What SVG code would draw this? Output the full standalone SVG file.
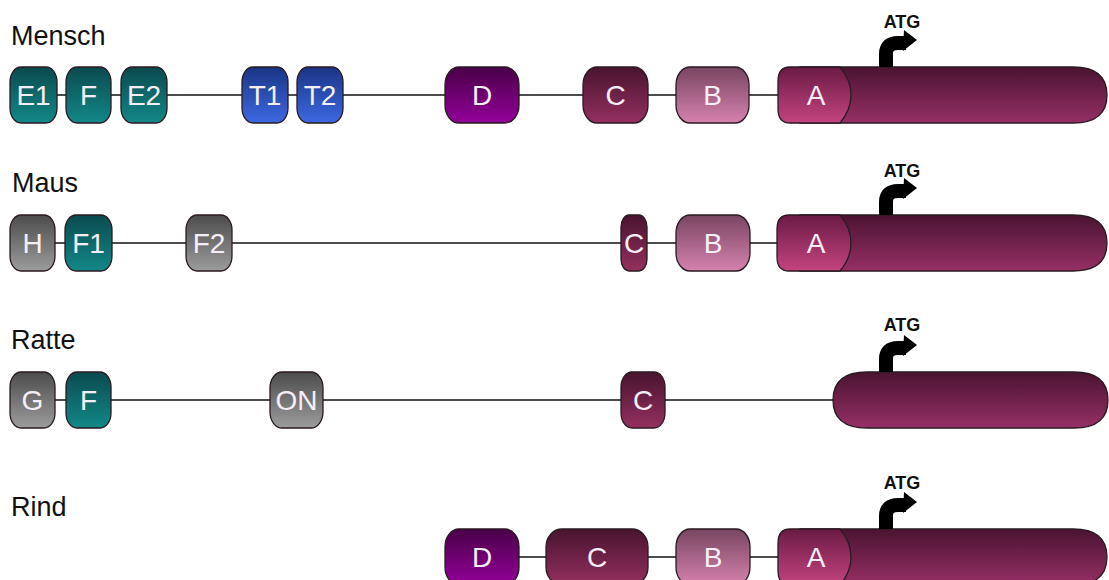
<svg xmlns="http://www.w3.org/2000/svg" width="1109" height="580" viewBox="0 0 1109 580">
<style>
.lbl{font-family:"Liberation Sans",Arial,sans-serif;font-size:27px;fill:#111}
.nt{font-family:"Liberation Sans",Arial,sans-serif;font-size:28px;fill:#f6eef6;text-anchor:middle}
.atg{font-family:"Liberation Sans",Arial,sans-serif;font-size:18px;font-weight:bold;fill:#111;text-anchor:middle}
.n{stroke:#2a1a22;stroke-width:1.3}
.ln{stroke:#111;stroke-width:1.3;fill:none}
</style>
<defs>
<linearGradient id="gT" x1="0" y1="0" x2="0" y2="1"><stop offset="0" stop-color="#0a4a4e"/><stop offset="1" stop-color="#138888"/></linearGradient>
<linearGradient id="gBl" x1="0" y1="0" x2="0" y2="1"><stop offset="0" stop-color="#1a3584"/><stop offset="1" stop-color="#3c68e2"/></linearGradient>
<linearGradient id="gD" x1="0" y1="0" x2="0" y2="1"><stop offset="0" stop-color="#480048"/><stop offset="1" stop-color="#94009a"/></linearGradient>
<linearGradient id="gC" x1="0" y1="0" x2="0" y2="1"><stop offset="0" stop-color="#48142e"/><stop offset="1" stop-color="#94305f"/></linearGradient>
<linearGradient id="gB" x1="0" y1="0" x2="0" y2="1"><stop offset="0" stop-color="#784660"/><stop offset="1" stop-color="#d682ae"/></linearGradient>
<linearGradient id="gA" x1="0" y1="0" x2="0" y2="1"><stop offset="0" stop-color="#6a1a44"/><stop offset="1" stop-color="#c4447f"/></linearGradient>
<linearGradient id="gBody" x1="0" y1="0" x2="0" y2="1"><stop offset="0" stop-color="#4a1430"/><stop offset="1" stop-color="#962f66"/></linearGradient>
<linearGradient id="gG" x1="0" y1="0" x2="0" y2="1"><stop offset="0" stop-color="#4c4c4c"/><stop offset="1" stop-color="#9c9c9c"/></linearGradient>
<g id="arrow">
<path d="M886 0 V-13 Q886 -24 898 -24 H906" fill="none" stroke="#000" stroke-width="14"/>
<polygon points="904,-37 917,-27 903,-16" fill="#000"/>
</g>
</defs>

<g id="connectors">
<line class="ln" x1="30" y1="95" x2="800" y2="95"/>
<line class="ln" x1="30" y1="243" x2="800" y2="243"/>
<line class="ln" x1="30" y1="400" x2="850" y2="400"/>
<line class="ln" x1="480" y1="557" x2="800" y2="557"/>
</g>

<!-- Row 1 Mensch -->
<g id="mensch">
<text class="lbl" x="11" y="45">Mensch</text>
<g id="m-body"><path class="n" fill="url(#gBody)" d="M800 67 H1073 Q1107 67 1107 95 Q1107 123 1073 123 H800 Z"/></g>
<g id="m-A"><path class="n" fill="url(#gA)" d="M790 67 H840 Q851 80 851 95 Q851 110 840 123 H790 Q778 123 778 109 V81 Q778 67 790 67 Z"/><text class="nt" x="816" y="105">A</text></g>
<g id="m-atg"><use href="#arrow" transform="translate(0,67)"/><text class="atg" x="902" y="28">ATG</text></g>
<g id="m-E1"><rect class="n" x="10" y="67" width="47" height="56" rx="11" ry="15" fill="url(#gT)"/><text class="nt" x="33.5" y="105">E1</text></g>
<g id="m-F"><rect class="n" x="66" y="67" width="45" height="56" rx="11" ry="15" fill="url(#gT)"/><text class="nt" x="88.5" y="105">F</text></g>
<g id="m-E2"><rect class="n" x="121" y="67" width="46" height="56" rx="11" ry="15" fill="url(#gT)"/><text class="nt" x="144" y="105">E2</text></g>
<g id="m-T1"><rect class="n" x="242" y="67" width="46" height="56" rx="11" ry="15" fill="url(#gBl)"/><text class="nt" x="265" y="105">T1</text></g>
<g id="m-T2"><rect class="n" x="297" y="67" width="46" height="56" rx="11" ry="15" fill="url(#gBl)"/><text class="nt" x="320" y="105">T2</text></g>
<g id="m-D"><rect class="n" x="445" y="67" width="74" height="56" rx="14" ry="18" fill="url(#gD)"/><text class="nt" x="482" y="105">D</text></g>
<g id="m-C"><rect class="n" x="583" y="67" width="65" height="56" rx="14" ry="18" fill="url(#gC)"/><text class="nt" x="615.5" y="105">C</text></g>
<g id="m-B"><rect class="n" x="676" y="67" width="73" height="56" rx="14" ry="18" fill="url(#gB)"/><text class="nt" x="712.5" y="105">B</text></g>
</g>

<!-- Row 2 Maus -->
<g id="maus">
<text class="lbl" x="12" y="192">Maus</text>
<g id="ma-body"><path class="n" fill="url(#gBody)" d="M800 215 H1073 Q1107 215 1107 243 Q1107 271 1073 271 H800 Z"/></g>
<g id="ma-A"><path class="n" fill="url(#gA)" d="M789 215 H840 Q851 228 851 243 Q851 258 840 271 H789 Q777 271 777 257 V229 Q777 215 789 215 Z"/><text class="nt" x="816" y="253">A</text></g>
<g id="ma-atg"><use href="#arrow" transform="translate(0,215)"/><text class="atg" x="902" y="177">ATG</text></g>
<g id="ma-H"><rect class="n" x="10" y="215" width="45" height="56" rx="11" ry="15" fill="url(#gG)"/><text class="nt" x="32.5" y="253">H</text></g>
<g id="ma-F1"><rect class="n" x="65" y="215" width="47" height="56" rx="11" ry="15" fill="url(#gT)"/><text class="nt" x="88.5" y="253">F1</text></g>
<g id="ma-F2"><rect class="n" x="186" y="215" width="46" height="56" rx="11" ry="15" fill="url(#gG)"/><text class="nt" x="209" y="253">F2</text></g>
<g id="ma-C"><rect class="n" x="621" y="215" width="26" height="56" rx="8" ry="12" fill="url(#gC)"/><text class="nt" x="634" y="253">C</text></g>
<g id="ma-B"><rect class="n" x="676" y="215" width="74" height="56" rx="14" ry="18" fill="url(#gB)"/><text class="nt" x="713" y="253">B</text></g>
</g>

<!-- Row 3 Ratte -->
<g id="ratte">
<text class="lbl" x="11" y="349">Ratte</text>
<g id="r-body"><path class="n" fill="url(#gBody)" d="M867 372 H1074 Q1108 372 1108 400 Q1108 428 1074 428 H867 Q833 428 833 400 Q833 372 867 372 Z"/></g>
<g id="r-atg"><use href="#arrow" transform="translate(0,372)"/><text class="atg" x="902" y="331">ATG</text></g>
<g id="r-G"><rect class="n" x="10" y="372" width="45" height="56" rx="11" ry="15" fill="url(#gG)"/><text class="nt" x="32.5" y="410">G</text></g>
<g id="r-F"><rect class="n" x="66" y="372" width="45" height="56" rx="11" ry="15" fill="url(#gT)"/><text class="nt" x="88.5" y="410">F</text></g>
<g id="r-ON"><rect class="n" x="270" y="372" width="53" height="56" rx="12" ry="16" fill="url(#gG)"/><text class="nt" x="296.5" y="410">ON</text></g>
<g id="r-C"><rect class="n" x="621" y="372" width="44" height="56" rx="11" ry="15" fill="url(#gC)"/><text class="nt" x="643" y="410">C</text></g>
</g>

<!-- Row 4 Rind -->
<g id="rind">
<text class="lbl" x="11" y="516">Rind</text>
<g id="ri-body"><path class="n" fill="url(#gBody)" d="M800 529 H1073 Q1107 529 1107 557 Q1107 585 1073 585 H800 Z"/></g>
<g id="ri-A"><path class="n" fill="url(#gA)" d="M790 529 H840 Q851 542 851 557 Q851 572 840 585 H790 Q778 585 778 571 V543 Q778 529 790 529 Z"/><text class="nt" x="816" y="567">A</text></g>
<g id="ri-atg"><use href="#arrow" transform="translate(0,529)"/><text class="atg" x="902" y="489">ATG</text></g>
<g id="ri-D"><rect class="n" x="445" y="529" width="74" height="56" rx="14" ry="18" fill="url(#gD)"/><text class="nt" x="482" y="567">D</text></g>
<g id="ri-C"><rect class="n" x="546" y="529" width="102" height="56" rx="16" ry="18" fill="url(#gC)"/><text class="nt" x="597" y="567">C</text></g>
<g id="ri-B"><rect class="n" x="676" y="529" width="74" height="56" rx="14" ry="18" fill="url(#gB)"/><text class="nt" x="713" y="567">B</text></g>
</g>
</svg>
